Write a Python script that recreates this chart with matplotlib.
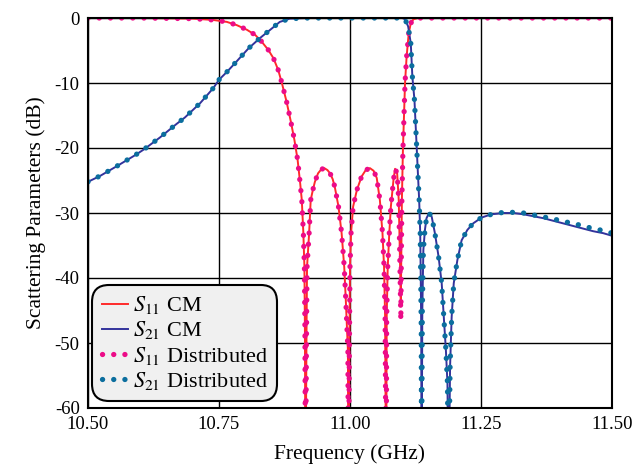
import matplotlib
matplotlib.use("Agg")
import matplotlib.pyplot as plt

# ---- data ----
f_s11_cm = [10.50, 10.60, 10.70, 10.739, 10.765, 10.784, 10.803, 10.819, 10.831, 10.844,
            10.854, 10.863, 10.870, 10.879, 10.887, 10.894, 10.900, 10.905, 10.908, 10.911,
            10.913, 10.914, 10.915, 10.917, 10.918, 10.922, 10.925, 10.929, 10.933, 10.939,
            10.945, 10.951, 10.957, 10.962, 10.967, 10.971, 10.978, 10.984, 10.989, 10.992,
            10.996, 10.997, 10.999, 11.000, 11.002, 11.006, 11.013, 11.022, 11.030, 11.038,
            11.045, 11.051, 11.057, 11.062, 11.065, 11.067, 11.069, 11.070, 11.072, 11.075,
            11.078, 11.083, 11.086, 11.090, 11.093, 11.095, 11.097, 11.098, 11.099, 11.101,
            11.103, 11.105, 11.108, 11.112, 11.116, 11.121, 11.130, 11.50]
db_s11_cm = [0.0, 0.0, -0.1, -0.3, -0.6, -1.1, -1.8, -2.6, -3.6, -4.9,
             -6.2, -8.0, -10.0, -12.9, -15.9, -18.8, -21.8, -25.5, -28.0, -33.1,
             -38.3, -48.5, -75.0, -48.5, -38.3, -33.1, -28.0, -26.5, -25.2, -23.9,
             -23.3, -23.1, -23.4, -23.9, -24.8, -26.0, -29.0, -33.1, -38.3, -43.4,
             -51.1, -75.0, -48.5, -38.3, -33.1, -29.0, -26.5, -24.4, -23.4, -23.1,
             -23.5, -24.6, -28.0, -33.1, -38.3, -46.0, -75.0, -46.0, -38.3, -33.1,
             -29.0, -24.9, -23.2, -23.9, -28.0, -35.7, -43.9, -35.7, -28.0, -20.3,
             -15.2, -10.0, -6.0, -2.4, -0.8, -0.2, 0.0, 0.0]

f_s21_cm = [10.500, 10.523, 10.557, 10.590, 10.607, 10.637, 10.669, 10.685, 10.714, 10.739,
            10.750, 10.765, 10.780, 10.806, 10.828, 10.851, 10.866, 10.885, 10.920, 11.100,
            11.105, 11.111, 11.116, 11.119, 11.123, 11.126, 11.129, 11.132, 11.134, 11.135,
            11.136, 11.1365, 11.138, 11.140, 11.143, 11.146, 11.151, 11.156, 11.162, 11.169,
            11.175, 11.179, 11.183, 11.186, 11.188, 11.191, 11.194, 11.198, 11.205, 11.213,
            11.224, 11.235, 11.251, 11.270, 11.293, 11.312, 11.331, 11.350, 11.369, 11.388,
            11.407, 11.426, 11.445, 11.464, 11.483, 11.500]
db_s21_cm = [-25.2, -24.3, -22.7, -21.1, -20.2, -18.4, -16.3, -15.3, -13.1, -10.8,
             -9.5, -8.3, -7.0, -4.7, -3.1, -1.6, -0.6, -0.1, 0.0, 0.0,
             -0.2, -1.3, -3.9, -9.0, -12.6, -17.7, -22.9, -28.0, -33.1, -39.8,
             -48.5, -75.0, -45.0, -35.7, -32.6, -30.8, -30.0, -30.6, -33.1, -36.7,
             -40.8, -46.0, -51.1, -56.2, -75.0, -53.6, -46.0, -40.8, -37.2, -34.2,
             -32.6, -31.6, -30.7, -30.2, -30.0, -30.0, -30.2, -30.5, -30.8, -31.2,
             -31.6, -32.0, -32.4, -32.8, -33.1, -33.5]

f_s11_dist = f_s11_cm
db_s11_dist = [0.0, 0.0, -0.1, -0.3, -0.6, -1.1, -1.8, -2.6, -3.6, -4.9,
               -6.2, -8.0, -10.0, -12.9, -15.9, -18.8, -21.8, -25.5, -28.0, -33.1,
               -38.3, -48.5, -75.0, -48.5, -38.3, -33.1, -28.0, -26.5, -25.2, -23.9,
               -23.3, -23.1, -23.4, -23.9, -24.8, -26.0, -29.0, -33.1, -38.3, -43.4,
               -51.1, -75.0, -48.5, -38.3, -33.1, -29.0, -26.5, -24.4, -23.4, -23.1,
               -23.5, -24.6, -28.0, -33.1, -38.3, -46.0, -75.0, -46.0, -38.3, -33.1,
               -29.0, -24.9, -23.2, -23.9, -28.0, -36.5, -46.5, -36.5, -28.0, -20.3,
               -15.2, -10.0, -6.0, -2.4, -0.8, -0.2, 0.0, 0.0]

f_s21_dist = f_s21_cm
db_s21_dist = [-25.2, -24.3, -22.7, -21.1, -20.2, -18.4, -16.3, -15.3, -13.1, -10.8,
               -9.5, -8.3, -7.0, -4.7, -3.1, -1.6, -0.6, -0.1, 0.0, 0.0,
               -0.2, -1.3, -3.9, -9.0, -12.6, -17.7, -22.9, -28.0, -33.1, -39.8,
               -48.5, -75.0, -45.0, -35.7, -32.6, -30.8, -30.0, -30.6, -33.1, -36.7,
               -40.8, -46.0, -51.1, -56.2, -75.0, -53.6, -46.0, -40.8, -37.2, -34.2,
               -32.6, -31.6, -30.7, -30.2, -29.9, -29.9, -30.0, -30.3, -30.6, -30.9,
               -31.3, -31.6, -32.0, -32.4, -32.7, -33.1]

xticks = [10.50, 10.75, 11.00, 11.25, 11.50]
xtick_labels = ["10.50", "10.75", "11.00", "11.25", "11.50"]
yticks = [0, -10, -20, -30, -40, -50, -60]
ytick_labels = ["0", "-10", "-20", "-30", "-40", "-50", "-60"]

# ---- styling ----
plt.rcParams['font.family'] = ['Liberation Serif', 'DejaVu Serif']
plt.rcParams['mathtext.fontset'] = 'stix'

fig = plt.figure(figsize=(6.35, 4.67), dpi=100)
ax = fig.add_axes([88/635, 1-408/467, 524/635, 390/467])

c_s11_cm = '#ff2a2a'
c_s21_cm = '#33339c'
c_s11_d = '#ec0c88'
c_s21_d = '#0b6e9e'

dot_style = (0, (0.02, 2.1))
ax.plot(f_s11_cm, db_s11_cm, color=c_s11_cm, lw=1.4, label=r'$S_{11}$ CM', zorder=3)
ax.plot(f_s21_cm, db_s21_cm, color=c_s21_cm, lw=1.4, label=r'$S_{21}$ CM', zorder=3)
ax.plot(f_s11_dist, db_s11_dist, color=c_s11_d, lw=3.8, linestyle=dot_style,
        dash_capstyle='round', label=r'$S_{11}$ Distributed', zorder=4)
ax.plot(f_s21_dist, db_s21_dist, color=c_s21_d, lw=3.8, linestyle=dot_style,
        dash_capstyle='round', label=r'$S_{21}$ Distributed', zorder=4)

ax.set_xlim(10.5, 11.5)
ax.set_ylim(-60, 0)
ax.set_xticks(xticks)
ax.set_xticklabels(xtick_labels)
ax.set_yticks(yticks)
ax.set_yticklabels(ytick_labels)
ax.tick_params(direction='in', length=0, labelsize=13.5, pad=6)
ax.grid(True, color='black', lw=1.0)
ax.set_axisbelow(True)
for s in ax.spines.values():
    s.set_linewidth(1.5)
    s.set_color('black')
    s.set_zorder(5)

ax.set_xlabel('Frequency (GHz)', fontsize=15.5, labelpad=8)
ax.set_ylabel('Scattering Parameters (dB)', fontsize=15.5, labelpad=6)

leg = ax.legend(loc='lower left', bbox_to_anchor=(0.008, 0.018), borderaxespad=0,
                fontsize=16, handlelength=1.2, handletextpad=0.22, labelspacing=0.14,
                borderpad=0.42, fancybox=True, framealpha=1.0)
frame = leg.get_frame()
frame.set_facecolor('#f0f0f0')
frame.set_edgecolor('black')
frame.set_linewidth(1.5)
frame.set_boxstyle('round,pad=0,rounding_size=0.75')
leg.set_zorder(6)

fig.savefig('out.png', dpi=100)
